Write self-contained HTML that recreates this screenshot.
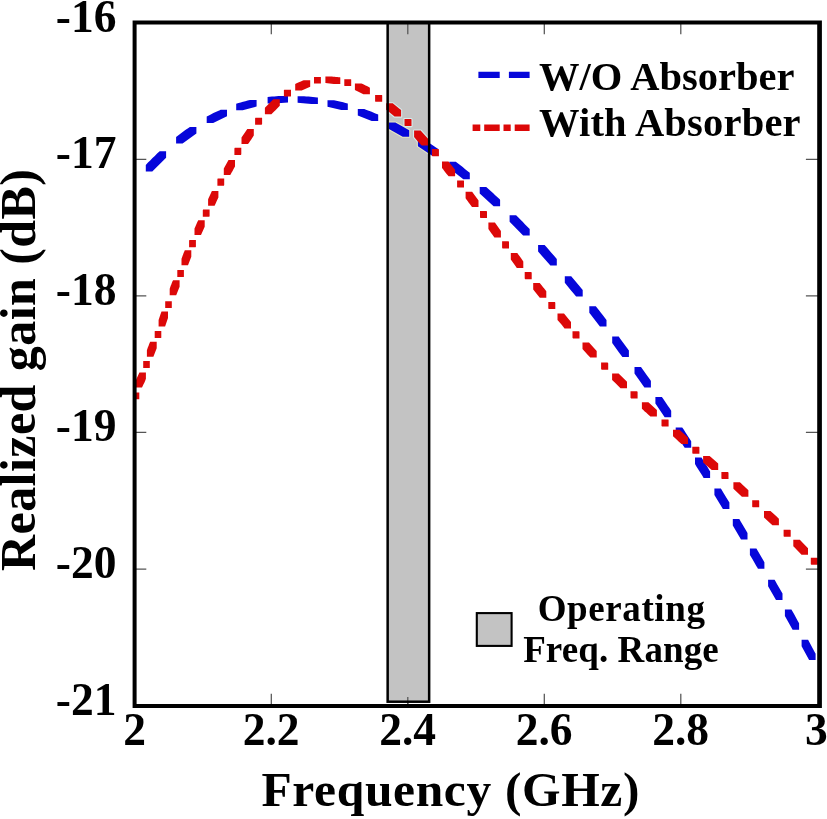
<!DOCTYPE html>
<html><head><meta charset="utf-8"><title>Realized gain</title>
<style>
html,body{margin:0;padding:0;background:#fff;}
body{width:827px;height:819px;overflow:hidden;position:relative;font-family:"Liberation Serif",serif;}
</style></head><body>
<svg width="827" height="819" viewBox="0 0 827 819" style="position:absolute;left:0;top:0;will-change:transform">
<rect x="0" y="0" width="827" height="819" fill="#fff"/>
<path d="M271.3,706.0v-12.3M271.3,22.7v11.5M407.8,706.0v-12.3M407.8,22.7v11.5M544.3,706.0v-12.3M544.3,22.7v11.5M680.8,706.0v-12.3M680.8,22.7v11.5M134.7,159.3h11.6M819.6,159.3h-13.7M134.7,295.9h11.6M819.6,295.9h-13.7M134.7,432.4h11.6M819.6,432.4h-13.7M134.7,569.0h11.6M819.6,569.0h-13.7" stroke="#555" stroke-width="1.25" fill="none"/>
<rect x="387.65" y="22.7" width="41.5" height="679.0" fill="#c3c3c3"/>
<path d="M407.8,22.7v11.5M407.8,704v-7" stroke="#555" stroke-width="1.25" fill="none"/>
<clipPath id="bandclip"><rect x="387.65" y="22.7" width="41.5" height="679.0"/></clipPath>
<g clip-path="url(#bandclip)" fill="none" stroke-width="2.2" stroke-linejoin="round"><path d="M357.8,109.0L364.3,109.0L366.6,109.9L368.8,110.7L371.0,111.6L373.2,112.5L375.4,113.4L377.6,114.3L378.2,114.6L378.2,121.1L371.7,121.1L357.8,115.5ZM388.9,122.6L395.4,122.6L397.6,123.8L399.9,125.0L402.1,126.2L404.3,127.4L406.5,128.7L409.2,130.2L409.2,136.7L402.7,136.7L388.9,129.1ZM417.9,139.7L424.4,139.7L426.7,141.2L428.9,142.7L431.2,144.2L433.4,145.7L435.6,147.2L438.3,149.1L438.3,155.6L431.8,155.6L417.9,146.2ZM449.3,161.8L455.8,161.8L458.1,163.6L460.4,165.3L462.7,167.1L464.9,168.9L467.1,170.7L469.4,172.5L469.8,172.8L469.8,179.3L463.3,179.3L449.3,168.3Z" stroke="#e6e6c4"/><path d="M354.9,83.4L361.4,83.4L362.8,84.0L364.2,84.7L365.6,85.4L366.9,86.1L368.3,86.8L369.9,87.7L369.9,94.2L363.4,94.2L354.9,89.9ZM375.1,94.9L381.6,94.9L381.9,95.1L382.1,95.2L382.2,95.3L382.2,101.8L375.7,101.8L375.1,101.4ZM386.2,103.3L392.7,103.3L396.7,106.5L399.4,108.7L401.1,110.1L401.1,116.6L394.6,116.6L387.5,110.8L386.2,109.8ZM404.5,119.1L411.0,119.1L411.5,119.6L411.5,126.1L405.0,126.1L404.9,126.0L404.5,125.6ZM414.1,130.6L420.6,130.6L428.3,139.1L428.3,145.6L421.8,145.6L420.4,144.2L419.1,142.8L417.8,141.4L416.6,140.0L415.3,138.6L414.1,137.1ZM431.9,149.1L438.4,149.1L438.9,149.7L438.9,156.2L432.4,156.2L432.2,156.1L432.0,155.8L431.9,155.6ZM442.0,161.5L448.5,161.5L455.1,169.8L455.1,176.3L448.6,176.3L447.3,174.7L446.2,173.4L444.1,170.7L443.1,169.3L442.0,168.0Z" stroke="#d6ecec"/></g>
<path d="M145.8,164.9L148.0,162.6L150.2,160.4L152.5,158.1L154.8,155.9L157.1,153.6L159.4,151.4L159.6,151.3L166.1,151.3L166.1,157.8L152.3,171.4L145.8,171.4ZM176.1,137.0L178.4,135.3L180.7,133.5L183.0,131.8L185.3,130.1L187.7,128.4L189.9,126.9L196.4,126.9L196.4,133.4L182.6,143.5L176.1,143.5ZM206.7,116.6L208.9,115.4L211.2,114.2L213.4,113.1L215.7,112.0L218.0,110.9L220.4,109.9L220.5,109.8L227.0,109.8L227.0,116.3L213.2,123.1L206.7,123.1ZM236.2,103.8L238.5,103.1L240.7,102.4L243.0,101.8L245.3,101.2L247.6,100.6L249.9,100.0L250.1,100.0L256.6,100.0L256.6,106.5L242.7,110.3L236.2,110.3ZM267.6,97.0L269.8,96.8L272.0,96.5L274.2,96.4L276.4,96.2L278.6,96.1L280.8,96.0L281.5,96.0L288.0,96.0L288.0,102.5L274.1,103.5L267.6,103.5ZM297.6,96.2L304.1,96.2L306.3,96.4L308.5,96.5L310.7,96.7L312.9,96.9L315.1,97.2L317.2,97.4L317.9,97.5L317.9,104.0L311.4,104.0L297.6,102.7ZM327.5,100.2L334.0,100.2L336.3,100.7L338.6,101.2L340.9,101.7L343.2,102.3L345.5,102.9L347.8,103.6L347.8,110.1L341.3,110.1L327.5,106.7ZM357.8,109.0L364.3,109.0L366.6,109.9L368.8,110.7L371.0,111.6L373.2,112.5L375.4,113.4L377.6,114.3L378.2,114.6L378.2,121.1L371.7,121.1L357.8,115.5ZM388.9,122.6L395.4,122.6L397.6,123.8L399.9,125.0L402.1,126.2L404.3,127.4L406.5,128.7L409.2,130.2L409.2,136.7L402.7,136.7L388.9,129.1ZM417.9,139.7L424.4,139.7L426.7,141.2L428.9,142.7L431.2,144.2L433.4,145.7L435.6,147.2L438.3,149.1L438.3,155.6L431.8,155.6L417.9,146.2ZM449.3,161.8L455.8,161.8L458.1,163.6L460.4,165.3L462.7,167.1L464.9,168.9L467.1,170.7L469.4,172.5L469.8,172.8L469.8,179.3L463.3,179.3L449.3,168.3ZM479.7,187.0L486.2,187.0L488.5,189.0L490.7,191.0L493.0,193.1L495.2,195.2L497.5,197.2L499.7,199.3L500.1,199.7L500.1,206.2L493.6,206.2L479.7,193.5ZM509.6,215.2L516.1,215.2L518.4,217.5L520.6,219.8L522.9,222.1L525.1,224.4L527.4,226.7L529.7,229.1L529.7,235.6L523.2,235.6L523.1,235.5L509.6,221.7ZM538.1,245.1L544.6,245.1L546.7,247.3L550.7,251.9L554.7,256.5L556.8,258.9L556.8,265.4L550.3,265.4L550.2,265.3L538.1,251.6ZM564.8,276.2L571.2,276.2L578.6,285.1L582.7,290.1L582.7,296.6L576.2,296.6L575.7,296.1L570.2,289.4L568.4,287.2L564.8,282.7ZM589.3,306.2L595.8,306.2L597.6,308.5L599.4,310.8L601.1,313.0L602.9,315.3L604.6,317.6L606.5,320.0L606.5,326.5L600.0,326.5L599.9,326.4L589.3,312.7ZM612.2,336.6L618.7,336.6L620.4,339.0L628.9,350.6L628.9,357.1L622.4,357.1L620.7,354.8L619.0,352.4L615.6,347.8L612.2,343.1ZM634.5,367.1L641.0,367.1L642.6,369.3L644.2,371.5L645.8,373.7L647.4,375.9L648.9,378.1L650.5,380.3L650.9,380.9L650.9,387.4L644.4,387.4L634.5,373.6ZM655.4,396.9L661.9,396.9L663.5,399.2L665.0,401.4L668.0,405.9L669.5,408.1L671.2,410.7L671.2,417.2L664.7,417.2L664.5,416.9L655.4,403.4ZM675.7,427.4L682.2,427.4L683.7,429.6L685.2,431.9L688.1,436.4L689.6,438.7L691.2,441.3L691.2,447.8L684.7,447.8L684.5,447.5L675.7,433.9ZM695.0,457.6L701.5,457.6L704.4,462.2L707.3,466.8L710.1,471.4L710.1,477.9L703.6,477.9L702.2,475.6L696.4,466.4L695.0,464.1ZM714.4,488.6L720.9,488.6L723.7,493.2L726.6,497.9L728.0,500.2L729.4,502.5L729.4,509.0L722.9,509.0L714.4,495.1ZM732.8,519.0L739.3,519.0L740.7,521.4L743.4,526.0L746.2,530.7L747.5,532.9L747.5,539.4L741.0,539.4L732.8,525.5ZM749.9,548.4L756.4,548.4L764.4,562.2L764.4,568.7L757.9,568.7L757.6,568.1L756.3,565.9L752.5,559.3L749.9,554.9ZM768.1,579.8L774.6,579.8L775.9,582.0L777.1,584.2L779.6,588.6L780.9,590.8L782.2,593.0L782.5,593.6L782.5,600.1L776.0,600.1L768.1,586.3ZM784.9,609.4L791.4,609.4L793.9,613.8L797.5,620.5L798.8,622.7L799.1,623.3L799.1,629.8L792.6,629.8L784.9,615.9ZM801.6,639.8L808.1,639.8L811.7,646.5L812.9,648.7L814.1,651.0L815.3,653.2L815.6,653.6L815.6,660.1L809.1,660.1L801.6,646.3Z" fill="#0606da"/>
<path d="M135.5,380.9L139.4,372.4L145.9,372.4L145.9,378.9L145.8,379.1L145.3,380.5L144.7,381.9L144.1,383.3L143.4,384.6L142.7,386.0L142.0,387.4L135.5,387.4ZM143.2,361.4L143.3,361.1L149.8,361.1L149.8,367.6L149.7,367.9L143.2,367.9ZM146.9,350.2L147.4,348.8L147.9,347.3L148.5,345.9L149.0,344.5L149.6,343.1L150.2,341.7L156.7,341.7L156.7,348.2L153.4,356.7L146.9,356.7ZM154.7,331.4L154.8,331.0L161.3,331.0L161.3,337.5L161.2,337.7L161.2,337.9L154.7,337.9ZM158.6,320.1L159.5,317.2L160.0,315.7L160.5,314.3L161.5,311.6L168.0,311.6L168.0,318.1L165.1,326.6L158.6,326.6ZM165.2,301.6L165.2,301.4L165.3,301.3L171.8,301.3L171.8,307.8L171.7,308.1L165.2,308.1ZM169.7,288.7L170.2,287.2L170.7,285.8L171.3,284.4L171.8,283.0L172.4,281.6L173.1,280.2L179.6,280.2L179.6,286.7L176.2,295.2L169.7,295.2ZM177.3,270.4L177.4,270.1L183.9,270.1L183.9,276.6L183.9,276.7L183.8,276.9L177.3,276.9ZM181.5,258.8L182.0,257.4L182.5,255.9L183.1,254.5L183.6,253.1L184.2,251.7L184.8,250.3L191.3,250.3L191.3,256.8L188.0,265.3L181.5,265.3ZM189.1,240.7L189.4,240.1L195.9,240.1L195.9,246.6L195.9,246.7L195.7,247.1L195.6,247.2L189.1,247.2ZM194.5,228.6L195.1,227.2L196.9,223.0L198.2,220.2L204.7,220.2L204.7,226.7L201.0,235.1L194.5,235.1ZM202.8,210.2L202.9,210.0L203.0,209.7L203.1,209.5L209.6,209.5L209.6,216.0L209.5,216.3L209.3,216.7L202.8,216.7ZM208.1,199.2L211.9,190.9L218.4,190.9L218.4,197.4L217.8,198.8L216.5,201.6L215.9,203.0L215.3,204.3L214.6,205.7L208.1,205.7ZM217.4,179.2L217.7,178.5L224.2,178.5L224.2,185.0L224.1,185.3L224.0,185.5L223.9,185.7L217.4,185.7ZM223.8,168.4L228.5,159.9L235.0,159.9L235.0,166.4L234.7,166.9L234.0,168.3L233.3,169.6L232.6,170.9L231.8,172.3L231.1,173.6L230.3,174.9L223.8,174.9ZM234.4,148.4L234.5,148.2L234.8,147.7L241.3,147.7L241.3,154.2L240.9,154.9L234.4,154.9ZM241.5,137.6L247.3,129.1L253.8,129.1L253.8,135.6L251.9,138.4L250.9,139.9L250.0,141.3L249.0,142.7L248.0,144.1L241.5,144.1ZM255.1,118.3L255.4,117.8L255.6,117.7L262.1,117.7L262.1,124.2L261.7,124.6L261.6,124.8L255.1,124.8ZM264.9,107.7L273.3,99.3L279.8,99.3L279.8,105.8L276.9,108.8L275.5,110.2L274.1,111.5L271.4,114.2L264.9,114.2ZM283.9,90.1L284.4,89.8L284.5,89.7L291.0,89.7L291.0,96.2L290.6,96.5L290.4,96.6L283.9,96.6ZM295.2,83.9L296.6,83.3L299.4,82.0L300.9,81.4L302.3,80.8L303.7,80.3L310.2,80.3L310.2,86.8L301.7,90.4L295.2,90.4ZM314.0,77.1L314.2,77.0L314.4,77.0L320.9,77.0L320.9,83.5L320.5,83.6L314.0,83.6ZM325.4,76.6L331.9,76.6L333.3,76.7L334.6,76.8L335.9,76.9L337.3,77.1L338.6,77.2L340.0,77.3L340.3,77.4L340.3,83.9L333.8,83.9L325.4,83.1ZM344.3,79.3L350.8,79.3L351.2,79.4L351.2,85.9L344.7,85.9L344.3,85.8ZM354.9,83.4L361.4,83.4L362.8,84.0L364.2,84.7L365.6,85.4L366.9,86.1L368.3,86.8L369.9,87.7L369.9,94.2L363.4,94.2L354.9,89.9ZM375.1,94.9L381.6,94.9L381.9,95.1L382.1,95.2L382.2,95.3L382.2,101.8L375.7,101.8L375.1,101.4ZM386.2,103.3L392.7,103.3L396.7,106.5L399.4,108.7L401.1,110.1L401.1,116.6L394.6,116.6L387.5,110.8L386.2,109.8ZM404.5,119.1L411.0,119.1L411.5,119.6L411.5,126.1L405.0,126.1L404.9,126.0L404.5,125.6ZM414.1,130.6L420.6,130.6L428.3,139.1L428.3,145.6L421.8,145.6L420.4,144.2L419.1,142.8L417.8,141.4L416.6,140.0L415.3,138.6L414.1,137.1ZM431.9,149.1L438.4,149.1L438.9,149.7L438.9,156.2L432.4,156.2L432.2,156.1L432.0,155.8L431.9,155.6ZM442.0,161.5L448.5,161.5L455.1,169.8L455.1,176.3L448.6,176.3L447.3,174.7L446.2,173.4L444.1,170.7L443.1,169.3L442.0,168.0ZM457.1,180.4L463.6,180.4L463.7,180.5L463.9,180.8L464.0,181.0L464.0,187.5L457.5,187.5L457.1,186.9ZM465.6,191.8L472.1,191.8L478.2,200.1L478.5,200.4L478.5,206.9L472.0,206.9L469.6,203.8L468.6,202.5L467.6,201.1L466.6,199.7L465.6,198.3ZM480.0,211.0L486.5,211.0L486.9,211.4L487.0,211.6L487.0,218.1L480.5,218.1L480.3,217.8L480.1,217.6L480.0,217.5ZM488.4,222.6L494.9,222.6L500.9,230.9L500.9,237.4L494.4,237.4L492.3,234.6L491.3,233.2L490.3,231.8L489.4,230.4L488.4,229.1ZM502.1,241.3L508.6,241.3L508.9,241.8L509.0,241.9L509.0,248.4L502.5,248.4L502.3,248.1L502.1,247.8ZM510.8,253.1L517.3,253.1L518.3,254.4L519.3,255.8L521.3,258.6L523.3,261.4L523.3,267.9L516.8,267.9L515.8,266.5L510.8,259.6ZM524.7,272.1L531.2,272.1L531.4,272.2L531.6,272.5L531.7,272.7L531.7,279.2L525.2,279.2L524.7,278.6ZM533.2,282.9L539.7,282.9L541.8,285.5L542.9,286.9L544.0,288.2L545.0,289.6L546.3,291.2L546.3,297.7L539.8,297.7L539.6,297.4L533.2,289.4ZM548.3,301.9L554.8,301.9L555.2,302.4L555.3,302.6L555.3,309.1L548.8,309.1L548.4,308.6L548.3,308.4ZM557.5,313.4L564.0,313.4L571.0,321.9L571.0,328.4L564.5,328.4L564.0,327.8L563.0,326.5L561.9,325.1L559.7,322.5L558.6,321.2L557.5,319.9ZM572.5,331.3L579.0,331.3L579.3,331.6L579.5,331.9L579.5,338.4L573.0,338.4L572.7,337.9L572.5,337.8ZM582.5,342.6L589.0,342.6L596.7,351.0L596.7,357.5L590.2,357.5L588.9,356.1L587.6,354.7L586.3,353.3L583.8,350.5L582.5,349.1ZM601.1,362.6L607.6,362.6L608.2,363.2L608.2,369.7L601.7,369.7L601.5,369.5L601.3,369.3L601.1,369.1ZM612.1,373.5L618.6,373.5L619.9,374.8L626.8,381.4L627.0,381.7L627.0,388.2L620.5,388.2L614.8,382.6L612.1,380.0ZM630.5,391.3L637.0,391.3L637.5,391.7L637.6,391.9L637.6,398.4L631.1,398.4L630.7,398.0L630.5,397.8ZM641.9,402.3L648.4,402.3L656.9,409.9L656.9,416.4L650.4,416.4L649.0,415.2L647.6,413.9L646.1,412.6L644.7,411.4L643.3,410.1L641.9,408.8ZM661.5,419.5L668.0,419.5L668.2,419.6L668.5,419.8L668.6,420.0L668.6,426.5L662.1,426.5L661.5,426.0ZM673.0,429.8L679.5,429.8L688.0,437.4L688.0,443.9L681.5,443.9L678.6,441.4L675.8,438.8L674.4,437.6L673.0,436.3ZM692.3,446.7L698.8,446.7L699.0,446.8L699.4,447.2L699.4,453.7L692.9,453.7L692.6,453.4L692.3,453.2ZM703.1,456.0L709.6,456.0L711.1,457.2L712.5,458.5L715.4,461.0L716.8,462.2L718.2,463.5L718.2,470.0L711.7,470.0L703.1,462.5ZM721.4,472.1L727.9,472.1L728.1,472.2L728.4,472.4L728.5,472.6L728.5,479.1L722.0,479.1L721.4,478.6ZM733.4,482.3L739.9,482.3L741.3,483.6L742.8,484.9L744.2,486.2L745.5,487.4L746.9,488.8L748.4,490.2L748.4,496.7L741.9,496.7L733.4,488.8ZM752.2,500.2L758.7,500.2L758.8,500.3L759.2,500.7L759.2,507.2L752.7,507.2L752.4,506.9L752.2,506.7ZM764.0,510.9L770.5,510.9L773.3,513.5L774.7,514.8L776.1,516.1L778.9,518.7L778.9,525.2L772.4,525.2L764.0,517.5ZM783.6,529.7L790.1,529.7L790.5,530.1L790.7,530.3L790.7,536.8L784.2,536.8L783.8,536.4L783.6,536.2ZM793.3,539.7L799.8,539.7L808.0,548.2L808.0,554.7L801.5,554.7L799.9,553.1L797.2,550.3L794.6,547.6L793.3,546.2ZM810.8,557.7L817.3,557.7L817.5,557.9L817.9,558.2L817.9,564.8L811.4,564.8L810.8,564.2ZM134,392.6h5.3v6.6h-5.3Z" fill="#dc0808"/>
<rect x="387.65" y="22.7" width="41.5" height="679.0" fill="none" stroke="#000" stroke-width="2.5"/>
<path d="M132.6,20.6H821.9V707.9H132.6ZM136.6,24.5V704H817.2V24.5Z" fill="#000" fill-rule="evenodd"/>
<path d="M478.4,71.7h21.3v6.4h-21.3ZM508.9,71.7h20.7v6.4h-20.7Z" fill="#0606da"/>
<path d="M472.6,124.5h7.7v6.4h-7.7ZM484.2,124.5h15.5v6.4h-15.5ZM503.5,124.5h7.2v6.4h-7.2ZM514.7,124.5h14.9v6.4h-14.9Z" fill="#dc0808"/>
<rect x="476.8" y="613.1" width="34.8" height="32.8" fill="#c3c3c3" stroke="#000" stroke-width="2.1"/>
<text x="116.4" y="31.8" font-size="45.5" text-anchor="end" font-family="Liberation Serif, serif" font-weight="bold" fill="#000">-16</text>
<text x="116.4" y="168.3" font-size="45.5" text-anchor="end" font-family="Liberation Serif, serif" font-weight="bold" fill="#000">-17</text>
<text x="116.4" y="304.9" font-size="45.5" text-anchor="end" font-family="Liberation Serif, serif" font-weight="bold" fill="#000">-18</text>
<text x="116.4" y="441.4" font-size="45.5" text-anchor="end" font-family="Liberation Serif, serif" font-weight="bold" fill="#000">-19</text>
<text x="116.4" y="578.0" font-size="45.5" text-anchor="end" font-family="Liberation Serif, serif" font-weight="bold" fill="#000">-20</text>
<text x="116.4" y="714.5" font-size="45.5" text-anchor="end" font-family="Liberation Serif, serif" font-weight="bold" fill="#000">-21</text>
<text x="134.6" y="745" font-size="45.5" text-anchor="middle" font-family="Liberation Serif, serif" font-weight="bold" fill="#000">2</text>
<text x="271.1" y="745" font-size="45.5" text-anchor="middle" font-family="Liberation Serif, serif" font-weight="bold" fill="#000">2.2</text>
<text x="407.6" y="745" font-size="45.5" text-anchor="middle" font-family="Liberation Serif, serif" font-weight="bold" fill="#000">2.4</text>
<text x="544.1" y="745" font-size="45.5" text-anchor="middle" font-family="Liberation Serif, serif" font-weight="bold" fill="#000">2.6</text>
<text x="680.6" y="745" font-size="45.5" text-anchor="middle" font-family="Liberation Serif, serif" font-weight="bold" fill="#000">2.8</text>
<text x="816.4" y="745" font-size="45.5" text-anchor="middle" font-family="Liberation Serif, serif" font-weight="bold" fill="#000">3</text>
<text x="450.8" y="806.4" font-size="49.5" letter-spacing="0.65" text-anchor="middle" font-family="Liberation Serif, serif" font-weight="bold" fill="#000">Frequency (GHz)</text>
<text transform="translate(35.3,369.8) rotate(-90)" font-size="50" letter-spacing="0.45" text-anchor="middle" font-family="Liberation Serif, serif" font-weight="bold" fill="#000">Realized gain (dB)</text>
<text x="539" y="89.6" font-size="40.5" font-family="Liberation Serif, serif" font-weight="bold" fill="#000">W/O Absorber</text>
<text x="539" y="136.2" font-size="40.5" letter-spacing="0.2" font-family="Liberation Serif, serif" font-weight="bold" fill="#000">With Absorber</text>
<text x="621.6" y="620.8" font-size="37" letter-spacing="0.6" text-anchor="middle" font-family="Liberation Serif, serif" font-weight="bold" fill="#000">Operating</text>
<text x="621" y="662.4" font-size="37" letter-spacing="0.1" text-anchor="middle" font-family="Liberation Serif, serif" font-weight="bold" fill="#000">Freq. Range</text>
</svg>
</body></html>
